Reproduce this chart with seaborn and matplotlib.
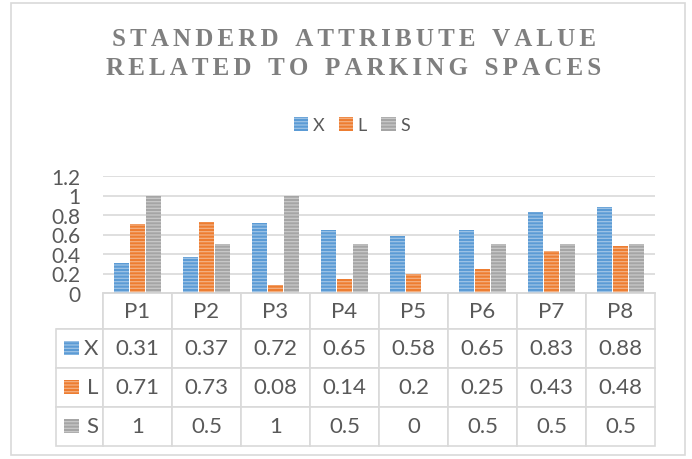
import numpy as np
import pandas as pd
import seaborn as sns
from matplotlib import pyplot as plt
from matplotlib.patches import Patch, Rectangle
from matplotlib.table import Table

# -------------------------------------------
# data

spaces = ['P1', 'P2', 'P3', 'P4', 'P5', 'P6', 'P7', 'P8']
attrs = ['X', 'L', 'S']
x_vals = [0.31, 0.37, 0.72, 0.65, 0.58, 0.65, 0.83, 0.88]
l_vals = [0.71, 0.73, 0.08, 0.14, 0.2, 0.25, 0.43, 0.48]
s_vals = [1, 0.5, 1, 0.5, 0, 0.5, 0.5, 0.5]
yticks = [0, 0.2, 0.4, 0.6, 0.8, 1, 1.2]
title = 'STANDERD ATTRIBUTE VALUE\nRELATED TO PARKING SPACES'

colors = ['#5b9bd5', '#ed7d31', '#a5a5a5']
stripe_colors = ['#9dc3e6', '#f4b183', '#c9c9c9']
grid_color = '#d9d9d9'
text_color = '#595959'
hatch = '-----'

# -------------------------------------------
# layout (pixels in a 692x460 figure)

W, H = 692, 460
ax_left, ax_right, ax_top, ax_bottom = 103, 655, 177, 294
table_left, table_bottom = 56, 447
label_col_w, data_col_w = 47, 69
header_h, row_h = 35, 38
title_width = 496

sns.set_style('white')
plt.rcParams['font.family'] = ['Lato', 'DejaVu Sans']
plt.rcParams['hatch.linewidth'] = 0.9

df = pd.DataFrame({
    'space': spaces * 3,
    'attr': [a for a in attrs for _ in spaces],
    'value': x_vals + l_vals + s_vals,
})

fig = plt.figure(figsize=(W / 100, H / 100), dpi=100)
ax = fig.add_axes([ax_left / W, 1 - ax_bottom / H, (ax_right - ax_left) / W, (ax_bottom - ax_top) / H])

sns.barplot(data=df, x='space', y='value', hue='attr', palette=colors, width=0.7, gap=0.1,
            legend=False, ax=ax, saturation=1)

for container, sc in zip(ax.containers, stripe_colors):
    for bar in container:
        bar.set_hatch(hatch)
        bar.set_edgecolor(sc)
        bar.set_linewidth(0)

ax.set_ylim(0, 1.2)
ax.set_yticks(yticks)
ax.set_yticklabels([f'{v:g}' for v in yticks])
ax.tick_params(axis='y', length=0, pad=16, labelsize=15, labelcolor=text_color)
ax.tick_params(axis='x', bottom=False, labelbottom=False)
ax.set_xlabel('')
ax.set_ylabel('')
ax.yaxis.grid(True, color=grid_color, lw=1.2)
ax.set_axisbelow(True)
for side in ['top', 'left', 'right']:
    ax.spines[side].set_visible(False)
ax.spines['bottom'].set_color(grid_color)
ax.spines['bottom'].set_linewidth(1.2)

# -------------------------------------------
# data table

ax_w, ax_h = ax_right - ax_left, ax_bottom - ax_top
bbox = [(table_left - ax_left) / ax_w, -(table_bottom - ax_bottom) / ax_h,
        (ax_right - table_left) / ax_w, (table_bottom - ax_bottom) / ax_h]
tbl = Table(ax, bbox=bbox)
tbl.auto_set_font_size(False)

corner = tbl.add_cell(0, 0, label_col_w, header_h, text='', edgecolor=grid_color)
corner.visible_edges = 'BR'
for j, sp in enumerate(spaces):
    tbl.add_cell(0, j + 1, data_col_w, header_h, text=sp, loc='center', edgecolor=grid_color)

for i, (name, vals) in enumerate(zip(attrs, [x_vals, l_vals, s_vals])):
    tbl.add_cell(i + 1, 0, label_col_w, row_h, text=name, loc='right', edgecolor=grid_color)
    for j, v in enumerate(vals):
        tbl.add_cell(i + 1, j + 1, data_col_w, row_h, text=f'{v:g}', loc='center', edgecolor=grid_color)

for cell in tbl.get_celld().values():
    cell.set_linewidth(1.2)
    cell.get_text().set_color(text_color)
tbl.set_fontsize(16)
ax.add_table(tbl)

# -------------------------------------------
# legend, title, frame

handles = [Patch(facecolor=c, edgecolor=sc, hatch=hatch, linewidth=0, label=a)
           for c, sc, a in zip(colors, stripe_colors, attrs)]
fig.legend(handles=handles, loc='center', bbox_to_anchor=(352 / W, 1 - 126 / H), ncol=3, frameon=False,
           fontsize=13, labelcolor=text_color, handlelength=0.8, handleheight=0.8,
           handletextpad=0.25, columnspacing=0.8)

# letter-spaced title: six-per-em space between letters, wider gap between words
letter_gap, word_gap = '\u2006', '  \u2006'
spaced = '\n'.join(word_gap.join(letter_gap.join(word) for word in line.split()) for line in title.split('\n'))
title_txt = fig.text(354 / W, 1 - 54 / H, spaced, ha='center', va='center',
                     family=['Liberation Serif', 'DejaVu Serif'], fontweight='bold', fontsize=18,
                     color='#7f7f7f', linespacing=1.3)

fig.patches.append(Rectangle((11 / W, 4 / H), 674 / W, 452 / H, transform=fig.transFigure,
                             fill=False, edgecolor=grid_color, linewidth=1.2))

fig.canvas.draw()
title_txt.set_fontsize(18 * title_width / title_txt.get_window_extent().width)

key_w, key_h = 15 / ax_w, 14 / ax_h
for i, (c, sc) in enumerate(zip(colors, stripe_colors)):
    cell = tbl[i + 1, 0]
    ax.add_patch(Rectangle((cell.get_x() + 8 / ax_w, cell.get_y() + cell.get_height() / 2 - key_h / 2),
                           key_w, key_h, transform=ax.transAxes, clip_on=False,
                           facecolor=c, edgecolor=sc, hatch=hatch, linewidth=0))

fig.savefig('out.png', dpi=100)
